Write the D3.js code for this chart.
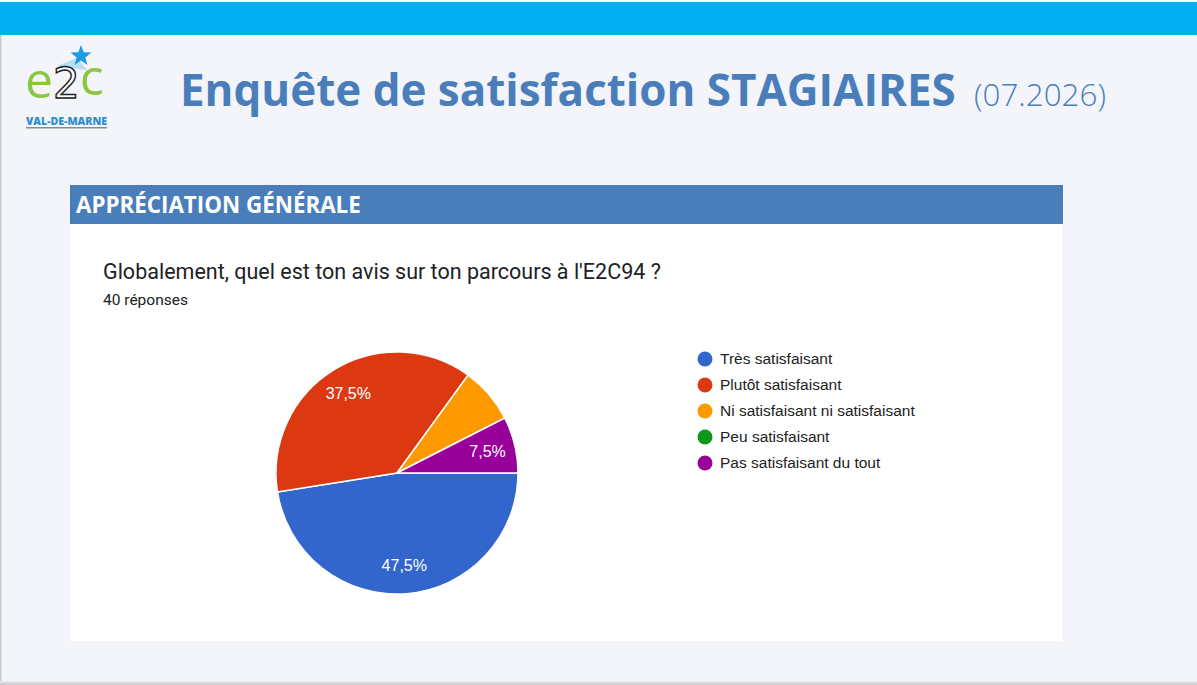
<!DOCTYPE html>
<html>
<head>
<meta charset="utf-8">
<script src="https://cdn.jsdelivr.net/npm/d3@7"></script>
<style>
  body { margin: 0; background: #f3f5fa; overflow: hidden; }
  svg { display: block; }
</style>
</head>
<body>
<svg width="1197" height="685"></svg>
<script>
var canvas = d3.select("svg");

var iWidth = +canvas.attr("width");
var iHeight = +canvas.attr("height");

// data (40 responses)
var categories = ["Très satisfaisant", "Plutôt satisfaisant", "Ni satisfaisant ni satisfaisant", "Peu satisfaisant", "Pas satisfaisant du tout"];
var counts = [19, 15, 3, 0, 3];
var showLabel = [true, true, false, false, true];
var colors = ["#3366cc", "#dc3912", "#ff9900", "#109618", "#990099"];

var totalResponses = d3.sum(counts);

var colorBlueTitle = "#4a7ebb";
var colorBg = "#f3f5fa";

// shrink/grow font so the text takes the given width
function fitWidth(sel, width) {
    var fs = parseFloat(sel.style("font-size"));
    var w = sel.node().getComputedTextLength();
    sel.style("font-size", (fs * width / w) + "px");
}

// page background, borders and top band
canvas.append("rect").attr("width", iWidth).attr("height", iHeight).attr("fill", colorBg);
canvas.append("rect").attr("x", 0).attr("y", 0).attr("width", iWidth).attr("height", 2).attr("fill", "#ffffff");
canvas.append("rect").attr("x", 0).attr("y", 2).attr("width", iWidth).attr("height", 33).attr("fill", "#00b0ee");
canvas.append("rect").attr("x", 0).attr("y", 35).attr("width", 1.5).attr("height", iHeight - 35).attr("fill", "#c8c8c8");
canvas.append("rect").attr("x", 0).attr("y", iHeight - 4).attr("width", iWidth).attr("height", 4).attr("fill", "#e6e6e8");
canvas.append("rect").attr("x", 0).attr("y", iHeight - 2).attr("width", iWidth).attr("height", 2).attr("fill", "#d0d0d2");

// logo
var logo = canvas.append("g").attr("transform", "translate(25,0)");
var star = d3.range(10).map(i => {
    var a = -Math.PI / 2 + i * Math.PI / 5;
    var rr = i % 2 === 0 ? 11 : 4.5;
    return [56 + rr * Math.cos(a), 56 + rr * Math.sin(a)];
});
logo.append("path")
    .attr("d", "M32,66 L52,58 L62,70 Z")
    .attr("fill", "#9fd3f2").attr("opacity", 0.7);
logo.append("path")
    .attr("d", "M" + star.join("L") + "Z")
    .attr("fill", "#1e9be0");
var logoText = logo.append("text")
    .attr("x", 0).attr("y", 98)
    .style("font-family", "'Open Sans', sans-serif")
    .style("font-size", "50px");
logoText.append("tspan")
    .style("fill", "#8cc63f")
    .text("e");
logoText.append("tspan")
    .style("font-family", "'DejaVu Sans', sans-serif")
    .style("font-size", "42px")
    .style("fill", "#ffffff")
    .style("stroke", "#222")
    .style("stroke-width", 1.4)
    .text("2");
logoText.append("tspan")
    .attr("dy", -3)
    .style("fill", "#8cc63f")
    .text("c");
logo.append("text")
    .attr("x", 1).attr("y", 125)
    .attr("textLength", 81)
    .attr("lengthAdjust", "spacingAndGlyphs")
    .style("font-family", "'Open Sans', sans-serif")
    .style("font-weight", "800")
    .style("font-size", "10.5px")
    .style("fill", "#2a8fd0")
    .text("VAL-DE-MARNE");
logo.append("rect").attr("x", 1).attr("y", 127).attr("width", 81).attr("height", 1.5).attr("fill", "#8a8a8a");

// main title
var title = canvas.append("text")
    .attr("x", 180).attr("y", 106)
    .style("font-family", "'Open Sans', sans-serif")
    .style("font-weight", "700")
    .style("font-size", "46px")
    .style("fill", colorBlueTitle)
    .text("Enquête de satisfaction STAGIAIRES");
fitWidth(title, 776);
var dateText = canvas.append("text")
    .attr("x", 974).attr("y", 106)
    .style("font-family", "'Open Sans', sans-serif")
    .style("font-weight", "300")
    .style("font-size", "32px")
    .style("fill", colorBlueTitle)
    .text("(07.2026)");
fitWidth(dateText, 132);

// section header and card
canvas.append("rect").attr("x", 70).attr("y", 185).attr("width", 993).attr("height", 39).attr("fill", colorBlueTitle);
var header = canvas.append("text")
    .attr("x", 76).attr("y", 213)
    .style("font-family", "'Open Sans', sans-serif")
    .style("font-weight", "700")
    .style("font-size", "22px")
    .style("fill", "#ffffff")
    .text("APPRÉCIATION GÉNÉRALE");
fitWidth(header, 285);
canvas.append("rect").attr("x", 70).attr("y", 224).attr("width", 992).attr("height", 417).attr("fill", "#ffffff");

canvas.append("text")
    .attr("x", 103).attr("y", 279)
    .style("font-family", "Roboto, sans-serif")
    .style("font-size", "21.5px")
    .style("fill", "#202124")
    .text("Globalement, quel est ton avis sur ton parcours à l'E2C94 ?");
canvas.append("text")
    .attr("x", 103).attr("y", 305)
    .style("font-family", "Roboto, sans-serif")
    .style("font-size", "15.5px")
    .style("fill", "#202124")
    .text(totalResponses + " réponses");

// pie
var radius = 121;
var pieGroup = canvas.append("g").attr("transform", "translate(397,473)");

var pie = d3.pie()
    .sort(null)
    .value(d => d)
    .startAngle(Math.PI / 2)
    .endAngle(Math.PI / 2 + 2 * Math.PI);

var arc = d3.arc().innerRadius(0).outerRadius(radius);
var labelArc = d3.arc().innerRadius(radius * 0.77).outerRadius(radius * 0.77);

var arcs = pie(counts);

pieGroup.selectAll("path")
    .data(arcs)
    .enter()
    .append("path")
    .attr("d", arc)
    .attr("fill", (d, i) => colors[i])
    .attr("stroke", "#ffffff")
    .attr("stroke-width", 1.5);

var pctFormat = v => (v / totalResponses * 100).toFixed(1).replace(".", ",") + "%";

pieGroup.selectAll("text")
    .data(arcs.filter((d, i) => showLabel[i]))
    .enter()
    .append("text")
    .attr("transform", d => `translate(${labelArc.centroid(d)})`)
    .attr("text-anchor", "middle")
    .attr("dy", "0.35em")
    .style("font-family", "Arial, 'Liberation Sans', sans-serif")
    .style("font-size", "16px")
    .style("fill", "#ffffff")
    .text(d => pctFormat(d.value));

// legend
var legendY = d3.scalePoint()
    .domain(categories)
    .range([359, 463]);

var legend = canvas.append("g").selectAll("g")
    .data(categories)
    .enter()
    .append("g")
    .attr("transform", d => `translate(705,${legendY(d)})`);

legend.append("circle")
    .attr("r", 7.5)
    .attr("fill", (d, i) => colors[i]);

legend.append("text")
    .attr("x", 15)
    .attr("dy", "0.35em")
    .style("font-family", "Arial, 'Liberation Sans', sans-serif")
    .style("font-size", "15.5px")
    .style("fill", "#222222")
    .text(d => d);
</script>
</body>
</html>
